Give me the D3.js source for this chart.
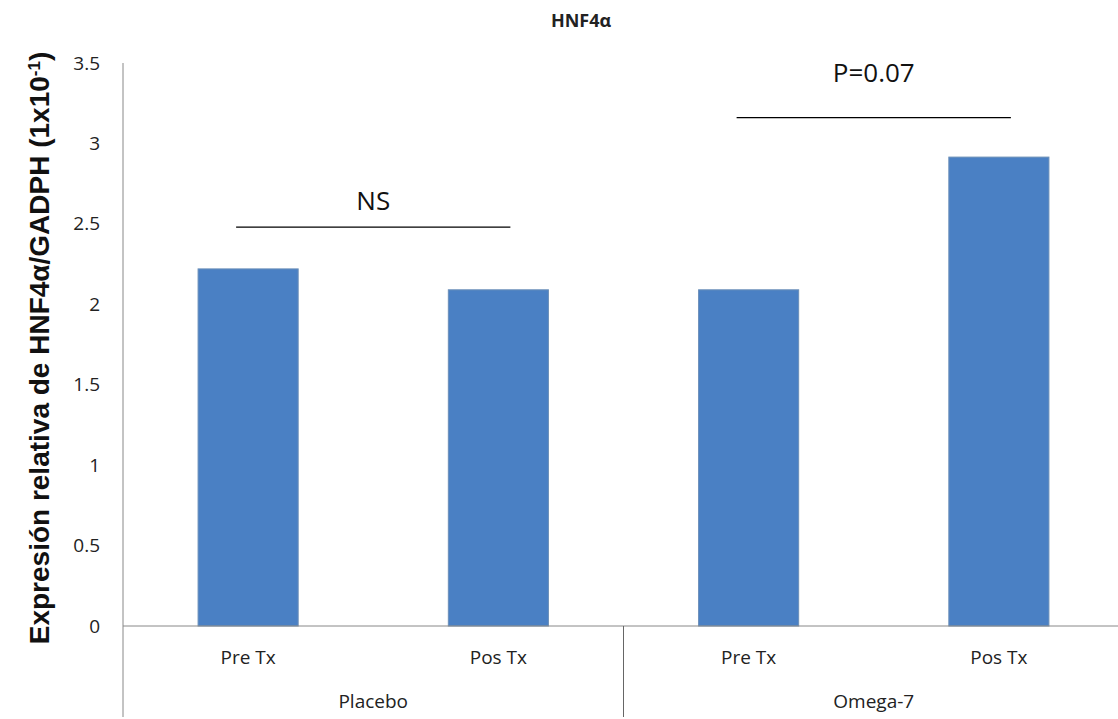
<!DOCTYPE html>
<html><head><meta charset="utf-8">
<script src="https://cdn.jsdelivr.net/npm/d3@7"></script>
<style>body{margin:0;background:#fff;} svg{display:block;}</style>
</head><body>
<svg id="c" width="1118" height="719"></svg>
<script>
const groups = ["Placebo", "Omega-7"];
const subcats = ["Pre Tx", "Pos Tx"];
const values = [2.22, 2.09, 2.09, 2.915];
const yTicks = [0, 0.5, 1, 1.5, 2, 2.5, 3, 3.5];
const annotations = [
  {label: "NS", from: 0, to: 1, y: 2.48, ty: 2.585},
  {label: "P=0.07", from: 2, to: 3, y: 3.16, ty: 3.38}
];

(function(){
const svg = d3.select("#c");
const pLeft = 123, pRight = 1124, pTop = 63, pBase = 626, pBottom = 717;
const cats = [];
groups.forEach((g, gi) => subcats.forEach((s, si) => cats.push({g, s, v: values[gi*2+si], i: gi*2+si})));

const x = d3.scaleBand().domain(cats.map(d => d.i)).range([pLeft, pRight]).paddingInner(0.6).paddingOuter(0.3);
const y = d3.scaleLinear().domain([0, 3.5]).range([pBase, pTop]);

const font = "'Open Sans', sans-serif";

// y axis
const yAx = svg.append("g").attr("transform", `translate(${pLeft},0)`)
  .call(d3.axisLeft(y).tickValues(yTicks).tickSize(0).tickPadding(23).tickFormat(d => d));
yAx.select(".domain").remove();
yAx.selectAll("text").attr("font-family", font).attr("font-size", 19).attr("fill", "#222");
svg.append("line").attr("x1", pLeft).attr("x2", pLeft).attr("y1", pTop).attr("y2", pBottom).attr("stroke", "#888").attr("stroke-width", 1);

// bars
svg.append("g").selectAll("rect").data(cats).join("rect")
  .attr("x", d => x(d.i)).attr("width", x.bandwidth())
  .attr("y", d => y(d.v)).attr("height", d => y(0) - y(d.v))
  .attr("fill", "#4a80c4").attr("stroke", "#6b8fb8").attr("stroke-width", 1);

// baseline
svg.append("line").attr("x1", pLeft).attr("x2", 1118).attr("y1", pBase).attr("y2", pBase).attr("stroke", "#888");

// category labels
svg.append("g").selectAll("text").data(cats).join("text")
  .attr("x", d => x(d.i) + x.bandwidth()/2).attr("y", 664)
  .attr("text-anchor", "middle").attr("font-family", font).attr("font-size", 19).attr("fill", "#222")
  .text(d => d.s);
const groupMid = gi => (x(gi*2) + x(gi*2+1) + x.bandwidth())/2;
svg.append("g").selectAll("text").data(groups).join("text")
  .attr("x", (d, gi) => groupMid(gi)).attr("y", 708)
  .attr("text-anchor", "middle").attr("font-family", font).attr("font-size", 19).attr("fill", "#222")
  .text(d => d);
const sepX = (x(1) + x.bandwidth() + x(2)) / 2;
svg.append("line").attr("x1", sepX).attr("x2", sepX).attr("y1", pBase).attr("y2", pBottom).attr("stroke", "#666");

// annotations
annotations.forEach(a => {
  const x1 = x(a.from) + x.bandwidth()*0.38, x2 = x(a.to) + x.bandwidth()*0.62;
  svg.append("line").attr("x1", x1).attr("x2", x2).attr("y1", y(a.y)).attr("y2", y(a.y)).attr("stroke", "#000").attr("stroke-width", 1.2);
  svg.append("text").attr("x", (x1+x2)/2).attr("y", y(a.ty)).attr("text-anchor", "middle")
    .attr("font-family", font).attr("font-size", 26).attr("fill", "#111").text(a.label);
});

// title
svg.append("text").attr("x", 581).attr("y", 27).attr("text-anchor", "middle")
  .attr("font-family", font).attr("font-weight", "bold").attr("font-size", 18).attr("fill", "#222").text("HNF4α");

// y title
const yt = svg.append("text").attr("transform", "translate(49,348) rotate(-90)").attr("text-anchor", "middle")
  .attr("font-family", "'Liberation Sans', Arial, sans-serif").attr("font-weight", "bold").attr("font-size", 28).attr("fill", "#111");
yt.append("tspan").text("Expresión relativa de HNF4α/GADPH (1x10");
yt.append("tspan").attr("baseline-shift", "super").attr("font-size", 17).text("-1");
yt.append("tspan").text(")");
})();
</script>
</body></html>
